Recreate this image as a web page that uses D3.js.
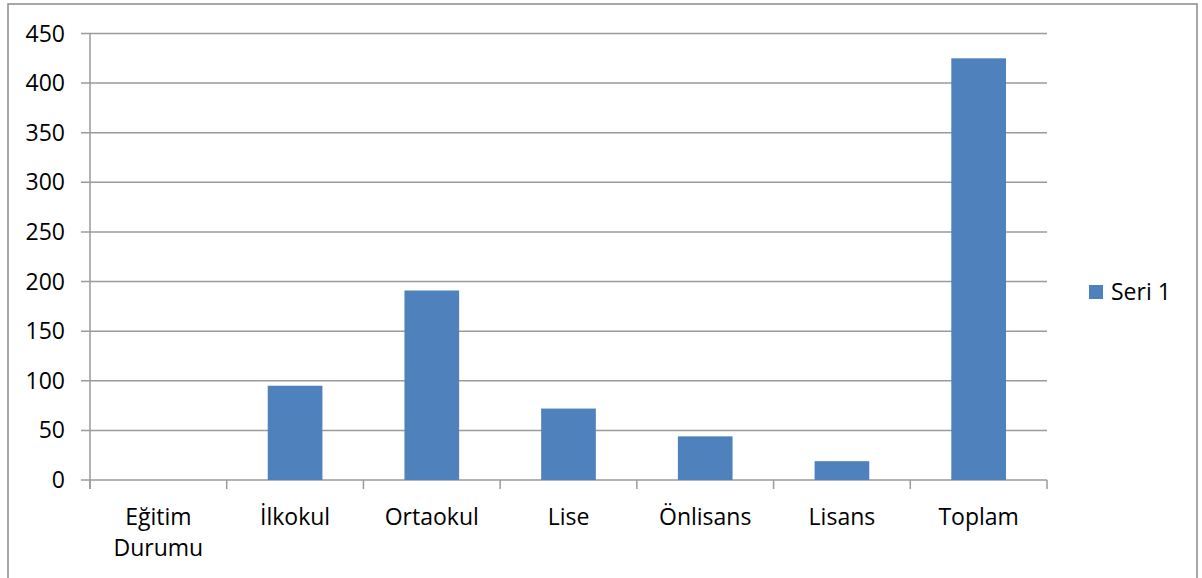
<!DOCTYPE html>
<html>
<head>
<meta charset="utf-8">
<script src="https://cdn.jsdelivr.net/npm/d3@7"></script>
<style>
  html, body { margin: 0; padding: 0; background: #fff; }
  svg { display: block; }
  text { font-family: "Open Sans", Lato, sans-serif; fill: #000; }
</style>
</head>
<body>
<svg id="chart" width="1202" height="578"></svg>
<script>
// Eğitim durumu dağılımı
const categories = ["Eğitim Durumu", "İlkokul", "Ortaokul", "Lise", "Önlisans", "Lisans", "Toplam"];
const values = [0, 95, 191, 72, 44, 19, 425];
const yTicks = [0, 50, 100, 150, 200, 250, 300, 350, 400, 450];
const seriesName = "Seri 1";

const W = 1202, H = 578;
const plot = { left: 90, right: 1047, top: 33.5, bottom: 480 };
const barColor = "#4F81BD";
const gridColor = "#9a9a9a";
const fontSize = 23;

const svg = d3.select("#chart");

// outer frame
svg.append("rect")
  .attr("x", 8).attr("y", 4)
  .attr("width", 1189).attr("height", H + 10)
  .attr("fill", "#fff")
  .attr("stroke", "#8a8a8a").attr("stroke-width", 1.5);

const x = d3.scaleBand()
  .domain(categories)
  .range([plot.left, plot.right])
  .paddingInner(0.6).paddingOuter(0.3);

const xOuter = d3.scaleBand()
  .domain(categories)
  .range([plot.left, plot.right])
  .padding(0);

const y = d3.scaleLinear()
  .domain([0, 450])
  .range([plot.bottom, plot.top]);

// horizontal gridlines
svg.append("g")
  .selectAll("line")
  .data(yTicks)
  .join("line")
  .attr("x1", plot.left - 9).attr("x2", plot.right)
  .attr("y1", d => y(d)).attr("y2", d => y(d))
  .attr("stroke", gridColor).attr("stroke-width", 1.5);

// y axis line
svg.append("line")
  .attr("x1", plot.left).attr("x2", plot.left)
  .attr("y1", plot.top).attr("y2", plot.bottom + 9)
  .attr("stroke", gridColor).attr("stroke-width", 1.5);

// y tick labels
svg.append("g")
  .selectAll("text")
  .data(yTicks)
  .join("text")
  .attr("x", 65)
  .attr("y", d => y(d))
  .attr("dy", "0.35em")
  .attr("text-anchor", "end")
  .attr("font-size", fontSize)
  .text(d => d);

// x tick marks at category boundaries
const boundaries = categories.map(c => xOuter(c)).concat([xOuter(categories[categories.length - 1]) + xOuter.bandwidth()]);
svg.append("g")
  .selectAll("line")
  .data(boundaries)
  .join("line")
  .attr("x1", d => d).attr("x2", d => d)
  .attr("y1", plot.bottom).attr("y2", plot.bottom + 9)
  .attr("stroke", gridColor).attr("stroke-width", 1.5);

// bars
svg.append("g")
  .selectAll("rect")
  .data(values)
  .join("rect")
  .attr("x", (d, i) => x(categories[i]))
  .attr("width", x.bandwidth())
  .attr("y", d => y(d))
  .attr("height", d => y(0) - y(d))
  .attr("fill", barColor);

// category labels (wrapped on space when too long)
const catG = svg.append("g");
categories.forEach(c => {
  const cx = xOuter(c) + xOuter.bandwidth() / 2;
  const words = c.split(" ");
  const lines = words.length > 1 ? words : [c];
  const t = catG.append("text")
    .attr("x", cx).attr("y", 525)
    .attr("text-anchor", "middle")
    .attr("font-size", fontSize);
  lines.forEach((w, i) => {
    t.append("tspan").attr("x", cx).attr("dy", i === 0 ? 0 : 31).text(w);
  });
});

// legend
const lg = svg.append("g");
lg.append("rect")
  .attr("x", 1089).attr("y", 285)
  .attr("width", 14).attr("height", 14)
  .attr("fill", barColor);
lg.append("text")
  .attr("x", 1111).attr("y", 292)
  .attr("dy", "0.35em")
  .attr("font-size", fontSize)
  .text(seriesName);
</script>
</body>
</html>
